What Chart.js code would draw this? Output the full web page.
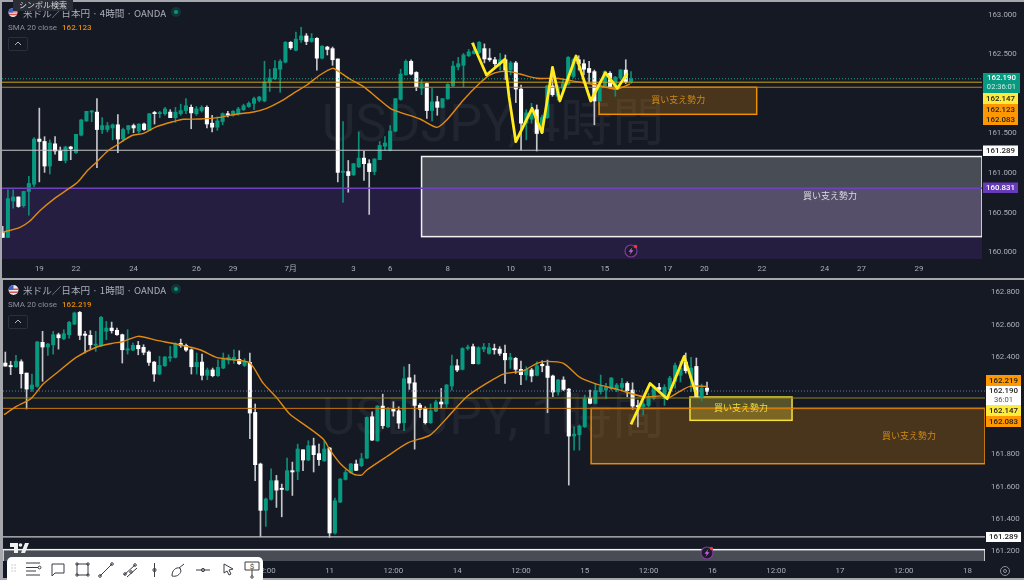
<!DOCTYPE html>
<html lang="ja">
<head>
<meta charset="UTF-8">
<title>USDJPY 4時間 / 1時間</title>
<script src="https://cdn.jsdelivr.net/npm/chart.js"></script>
<style>
  html, body { margin: 0; padding: 0; }
  body { width: 1024px; height: 580px; overflow: hidden; position: relative; background: #a5a7ac;
         font-family: Roboto, "Noto Sans CJK JP", sans-serif; }
  canvas { position: absolute; background: #151924; }
  #c4h { left: 2px; top: 2px; }
  #c1h { left: 3px; top: 280px; }
  .title { position: absolute; left: 23px; font-size: 9.6px; color: #a9adb8; white-space: nowrap;
           font-family: "Noto Sans CJK JP", sans-serif; line-height: 12px; }
  .sma { position: absolute; left: 8px; font-size: 8px; color: #8b8f9b; line-height: 10px; white-space: nowrap; }
  .sma b { font-weight: 500; color: #e68a0c; margin-left: 5px; }
  .fold { position: absolute; left: 8px; width: 18px; height: 12px; border: 1px solid #2b2f3a; border-radius: 2px; }
  .fold svg { display: block; margin: 3px auto 0; }
  .dot { position: absolute; left: 171px; width: 10px; height: 10px; border-radius: 5px; background: rgba(8,153,129,.22); }
  .dot i { position: absolute; left: 3px; top: 3px; width: 4px; height: 4px; border-radius: 2px; background: #089981; }
  .flag { position: absolute; left: 8px; }
  #tip { position: absolute; left: 13px; top: 0; width: 60px; height: 11px; background: #2a2d36; color: #d6d8de;
         font: 8px/10px "Noto Sans CJK JP", sans-serif; text-align: center; }
  #tools { position: absolute; left: 7px; top: 557px; width: 256px; height: 23px; background: #fff; border-radius: 5px 5px 0 0; }
  #logo { position: absolute; left: 10px; top: 543px; }
  #gear { position: absolute; left: 999px; top: 565px; }
</style>
</head>
<body>
<canvas id="c4h" width="1022" height="276"></canvas>
<canvas id="c1h" width="1021" height="298"></canvas>

<svg class="flag" style="top:7px" width="10" height="11" viewBox="0 0 10 10"><circle cx="5" cy="5" r="4.5" fill="#e9e9ee"/><path d="M1 7h8M.6 4.4h8.8" stroke="#d9534f" stroke-width="1.4"/><path d="M5 .5A4.5 4.5 0 0 0 .5 5H5z" fill="#3c62c4"/></svg>
<div class="title" style="top:7px">米ドル／日本円 · 4時間 · OANDA</div>
<div class="dot" style="top:7px"><i></i></div>
<div class="sma" style="top:23px">SMA 20 close<b>162.123</b></div>
<div class="fold" style="top:37px"><svg width="8" height="5"><path d="M1 4l3-3 3 3" fill="none" stroke="#b2b5be"/></svg></div>
<div id="tip">シンボル検索</div>

<svg class="flag" style="top:284px" width="11" height="12" viewBox="0 0 10 10"><circle cx="5" cy="5" r="4.5" fill="#e9e9ee"/><path d="M1 7h8M.6 4.4h8.8" stroke="#d9534f" stroke-width="1.4"/><path d="M5 .5A4.5 4.5 0 0 0 .5 5H5z" fill="#3c62c4"/></svg>
<div class="title" style="top:284px">米ドル／日本円 · 1時間 · OANDA</div>
<div class="dot" style="top:284px"><i></i></div>
<div class="sma" style="top:300px">SMA 20 close<b>162.219</b></div>
<div class="fold" style="top:315px"><svg width="8" height="5"><path d="M1 4l3-3 3 3" fill="none" stroke="#b2b5be"/></svg></div>

<svg id="logo" width="19" height="11" viewBox="0 0 19 11"><path d="M0 0h8v10H4V4H0zM15 0h4l-4 10h-4z" fill="#f0f0f0"/><circle cx="10.5" cy="2" r="1.8" fill="#f0f0f0"/></svg>

<div id="tools">
<svg width="256" height="23" viewBox="0 0 256 23" fill="none" stroke="#3a3d45" stroke-width="1">
  <g fill="#bbb" stroke="none"><circle cx="5" cy="8" r=".7"/><circle cx="8" cy="8" r=".7"/><circle cx="5" cy="11" r=".7"/><circle cx="8" cy="11" r=".7"/><circle cx="5" cy="14" r=".7"/><circle cx="8" cy="14" r=".7"/></g>
  <path d="M19 6h14M19 10.500h12M19 14h10M19 18h14"/><circle cx="32.500" cy="10.500" r="1.400"/>
  <path d="M45 7h12v9h-9l-3 3z"/>
  <path d="M70 7h11v11H70z"/><circle cx="70" cy="7" r="1.200"/><circle cx="81" cy="7" r="1.200"/><circle cx="70" cy="18" r="1.200"/><circle cx="81" cy="18" r="1.200"/>
  <path d="M93 19L105 7"/><circle cx="93" cy="19" r="1.300"/><circle cx="105" cy="7" r="1.300"/>
  <path d="M117 18l11-10M120 20l10-9"/><circle cx="118" cy="17" r="1.300"/><circle cx="128" cy="8" r="1.300"/><circle cx="124" cy="15" r="1.300"/>
  <path d="M147.500 6v14"/><circle cx="147.500" cy="13" r="1.600"/>
  <path d="M165 19c0-6 4-9 8-8l1 3c-1 4-5 6-9 5zM172 11l5-4"/>
  <path d="M189 13h14"/><circle cx="196" cy="13" r="1.600"/>
  <path d="M217 7l9 5-4 1 2 4-2 1-2-4-3 2z"/>
  <path d="M238 5h14v8h-14zM245 13v6"/><circle cx="245" cy="20" r="1.200"/><text x="245" y="12" font-size="8" text-anchor="middle" fill="#3a3d45" stroke="none" font-family="Roboto">$</text>
</svg>
</div>
<svg id="gear" width="12" height="12"><circle cx="6" cy="6" r="4.500" fill="none" stroke="#8b8f9b"/><circle cx="6" cy="6" r="1.500" fill="none" stroke="#8b8f9b"/></svg>

<script>
// ---- 4時間足 ----
const open4h = [
  160.26,160.19,160.65,160.70,160.59,160.77,160.86,161.43,161.40,161.09,
  161.37,161.28,161.16,161.33,161.26,161.48,161.66,161.77,161.77,161.55,
  161.55,161.57,161.61,161.43,161.55,161.60,161.53,161.62,161.54,161.76,
  161.75,161.75,161.77,161.70,161.75,161.79,161.83,161.75,161.79,161.83,
  161.63,161.58,161.65,161.75,161.73,161.75,161.80,161.84,161.88,161.92,
  161.91,162.15,162.19,162.31,162.40,162.65,162.55,162.68,162.73,162.66,
  162.70,162.45,162.59,162.57,162.44,161.01,161.02,160.98,161.08,161.19,
  161.12,161.02,161.17,161.34,161.29,161.53,161.93,162.24,162.41,162.27,
  162.07,162.13,161.79,161.90,161.83,161.94,162.10,162.34,162.36,162.48,
  162.51,162.52,162.57,162.45,162.43,162.38,162.43,162.30,162.39,162.06,
  161.63,161.68,161.80,161.51,161.70,162.10,161.97,162.07,162.12,162.22,
  162.43,162.38,162.32,162.28,161.91,162.10,162.26,162.09,162.20,162.30,
  162.15];
const high4h = [
  160.33,160.79,160.79,160.70,160.77,160.96,161.45,161.82,161.46,161.42,
  161.46,161.33,161.34,161.34,161.49,161.68,161.78,161.79,161.94,161.70,
  161.64,161.62,161.74,161.57,161.60,161.62,161.62,161.63,161.75,161.78,
  161.78,161.83,161.80,161.83,161.87,161.94,161.86,161.84,161.85,161.85,
  161.73,161.71,161.76,161.78,161.79,161.83,161.87,161.90,161.96,161.97,
  162.41,162.31,162.42,162.43,162.66,162.66,162.78,162.84,162.76,162.76,
  162.71,162.61,162.60,162.59,162.44,161.65,161.16,161.12,161.52,161.28,
  161.17,161.18,161.40,161.46,161.60,161.94,162.31,162.43,162.43,162.28,
  162.18,162.14,162.07,161.97,161.94,162.13,162.41,162.46,162.51,162.56,
  162.64,162.66,162.63,162.57,162.46,162.51,162.49,162.41,162.41,162.11,
  161.80,161.88,161.86,161.73,162.11,162.34,162.11,162.18,162.47,162.45,
  162.48,162.43,162.41,162.30,162.13,162.29,162.28,162.22,162.31,162.43,
  162.28];
const low4h = [
  160.19,160.19,160.56,160.57,160.57,160.47,160.83,160.89,161.01,160.99,
  161.24,161.16,161.13,161.17,161.25,161.47,161.65,161.65,161.07,161.50,
  161.52,161.42,161.26,161.40,161.50,161.51,161.51,161.54,161.54,161.62,
  161.70,161.73,161.70,161.64,161.73,161.75,161.56,161.73,161.77,161.57,
  161.52,161.54,161.61,161.71,161.72,161.73,161.79,161.83,161.80,161.90,
  161.90,162.03,162.18,162.02,162.39,162.56,162.54,162.65,162.62,162.65,
  162.30,162.44,162.49,162.36,160.89,160.63,160.76,160.97,161.07,160.91,
  160.48,160.98,161.17,161.29,161.28,161.52,161.92,162.24,162.24,162.04,
  161.99,161.69,161.66,161.73,161.82,161.93,162.09,162.30,162.09,162.47,
  162.50,162.51,162.39,162.41,162.32,162.30,162.18,162.24,161.89,161.29,
  161.42,161.63,161.28,161.50,161.69,161.97,161.92,162.03,162.11,162.20,
  162.30,162.24,162.13,161.61,161.90,162.09,162.07,161.97,162.18,162.13,
  162.13];
const close4h = [
  160.19,160.68,160.70,160.58,160.77,160.87,161.43,161.40,161.09,161.38,
  161.28,161.16,161.33,161.31,161.49,161.67,161.78,161.78,161.55,161.60,
  161.60,161.61,161.43,161.55,161.60,161.57,161.62,161.55,161.75,161.75,
  161.75,161.81,161.70,161.77,161.79,161.85,161.76,161.81,161.83,161.62,
  161.58,161.66,161.75,161.73,161.78,161.81,161.85,161.88,161.94,161.96,
  162.15,162.20,162.32,162.41,162.65,162.58,162.69,162.73,162.66,162.70,
  162.45,162.60,162.56,162.43,161.01,161.02,160.97,161.12,161.19,161.12,
  161.02,161.18,161.35,161.38,161.53,161.94,162.25,162.41,162.25,162.09,
  162.13,161.79,161.90,161.83,161.94,162.12,162.35,162.38,162.49,162.53,
  162.54,162.65,162.44,162.43,162.38,162.43,162.30,162.39,162.06,161.63,
  161.76,161.76,161.50,161.70,162.10,161.99,162.07,162.13,162.46,162.43,
  162.38,162.31,162.27,161.91,162.11,162.28,162.09,162.21,162.30,162.15,
  162.19];
const smaAt4h = [0,3.3,5.2,7.1,9.7,12.9,14.4,16,18,19.9,21.8,23.4,25,26.9,29.4,32.6,34.5,37.7,41.5,44,47.9,50.4,53,55.5,58.1,60.6,63,64,66.3,68.9,71.4,74,75.9,79.7,82.9,84.8,88,91.1,93.1,95,96.9,98.8,102,105.8,109.6,113.4,117.2,119.8];
const sma4h = [160.255,160.317,160.397,160.527,160.67,160.817,160.893,161.019,161.145,161.271,161.355,161.427,161.481,161.502,161.586,161.65,161.679,161.683,161.704,161.738,161.771,161.817,161.901,162.007,162.112,162.238,162.322,162.29,162.187,162.091,161.956,161.818,161.767,161.683,161.578,161.67,161.923,162.133,162.238,162.28,162.28,162.25,162.196,162.196,162.154,162.112,162.061,162.124];
const penAt4h = [89.7,92.4,95.9,96.7,98,101.1,103,105,106.4,109.5,112.3,115.1,117.4,119.3];
const pen4h = [162.645,162.238,162.435,161.965,161.397,161.818,161.511,162.334,161.91,162.477,161.91,162.267,162.07,162.259];
const tickAt4h = [7,14,25,37,44,55,67,74,85,97,104,115,127,134,145,157,164,175];
const tickText4h = ['19','22','24','26','29','7月','3','6','8','10','13','15','17','20','22','24','27','29'];
const priceTicks4h = [163,162.5,161.5,161,160.5,160];

// ---- 1時間足 ----
const open1h = [
  162.363,162.348,162.340,162.371,162.301,162.202,162.219,162.491,162.462,162.476,
  162.538,162.513,162.538,162.604,162.676,162.542,162.534,162.472,162.472,162.559,
  162.579,162.565,162.538,162.443,162.443,162.472,162.460,162.431,162.369,162.295,
  162.346,162.394,162.398,162.484,162.472,162.445,162.340,162.369,162.287,162.320,
  162.285,162.332,162.381,162.383,162.386,162.348,162.367,162.058,161.739,161.453,
  161.521,161.636,161.589,161.578,161.698,161.694,161.827,161.764,161.852,161.803,
  161.759,161.838,161.313,161.504,161.644,161.685,161.739,161.729,161.776,162.031,
  161.883,162.097,161.969,162.077,162.068,161.994,162.272,162.241,162.103,162.083,
  161.994,162.066,162.122,162.110,162.221,162.346,162.324,162.453,162.464,162.359,
  162.449,162.423,162.451,162.449,162.423,162.383,162.392,162.324,162.289,162.320,
  162.287,162.355,162.344,162.283,162.184,162.258,162.202,161.912,161.920,161.969,
  162.147,162.114,162.186,162.196,162.206,162.196,162.212,162.237,162.196,162.097,
  162.093,162.101,162.145,162.212,162.143,162.198,162.250,162.287,162.369,162.270,
  162.342,162.151,162.208];
const high1h = [
  162.431,162.373,162.410,162.383,162.301,162.295,162.497,162.559,162.484,162.559,
  162.548,162.569,162.620,162.678,162.682,162.559,162.563,162.559,162.651,162.620,
  162.616,162.579,162.542,162.569,162.486,162.497,162.476,162.439,162.373,162.404,
  162.404,162.466,162.488,162.511,162.480,162.451,162.425,162.418,162.332,162.332,
  162.383,162.425,162.414,162.445,162.439,162.390,162.425,162.110,161.745,161.529,
  161.710,161.669,161.615,161.776,161.751,161.862,161.827,161.883,161.899,161.862,
  161.879,161.842,161.529,161.650,161.702,161.743,161.764,161.805,162.031,162.062,
  162.101,162.171,162.089,162.124,162.093,162.340,162.355,162.289,162.114,162.093,
  162.110,162.134,162.206,162.231,162.412,162.385,162.458,162.474,162.480,162.464,
  162.484,162.484,162.480,162.464,162.474,162.423,162.398,162.375,162.340,162.330,
  162.371,162.377,162.381,162.289,162.262,162.278,162.206,161.969,161.980,162.165,
  162.196,162.237,162.289,162.237,162.274,162.237,162.268,162.247,162.241,162.134,
  162.124,162.175,162.221,162.237,162.229,162.281,162.363,162.373,162.425,162.398,
  162.394,162.233,162.246];
const low1h = [
  162.344,162.291,162.336,162.208,162.079,162.188,162.213,162.250,162.410,162.418,
  162.449,162.507,162.517,162.600,162.507,162.425,162.449,162.435,162.466,162.507,
  162.548,162.534,162.363,162.418,162.439,162.414,162.414,162.348,162.250,162.291,
  162.342,162.373,162.394,162.460,162.435,162.295,162.295,162.258,162.260,162.278,
  162.281,162.328,162.357,162.361,162.353,162.342,161.895,161.636,161.292,161.354,
  161.516,161.471,161.413,161.574,161.545,161.642,161.698,161.759,161.690,161.731,
  161.755,161.286,161.306,161.500,161.640,161.681,161.698,161.722,161.772,161.883,
  161.879,161.959,161.965,162.035,161.959,161.945,162.200,161.831,162.027,161.986,
  161.990,162.062,162.083,162.089,162.196,162.309,162.320,162.443,162.357,162.355,
  162.433,162.418,162.418,162.410,162.237,162.330,162.299,162.229,162.258,162.247,
  162.283,162.309,162.056,162.155,162.165,162.192,161.609,161.825,161.825,161.965,
  162.110,162.110,162.171,162.145,162.196,162.186,162.196,162.155,162.077,161.969,
  162.042,162.093,162.138,162.186,162.101,162.188,162.208,162.246,162.301,162.188,
  162.151,162.130,162.167];
const close1h = [
  162.344,162.340,162.373,162.297,162.202,162.227,162.493,162.462,162.480,162.538,
  162.519,162.544,162.614,162.672,162.534,162.534,162.476,162.480,162.645,162.579,
  162.563,162.538,162.445,162.451,162.472,162.451,162.429,162.367,162.295,162.348,
  162.400,162.400,162.484,162.470,162.443,162.340,162.367,162.287,162.320,162.285,
  162.336,162.394,162.398,162.398,162.359,162.373,162.054,161.735,161.453,161.523,
  161.636,161.578,161.582,161.698,161.690,161.832,161.764,161.852,161.797,161.766,
  161.832,161.313,161.512,161.646,161.687,161.739,161.700,161.772,162.027,161.887,
  162.097,161.976,162.081,162.066,161.992,162.266,162.239,162.101,162.077,161.994,
  162.068,162.122,162.110,162.227,162.346,162.320,162.453,162.462,162.359,162.458,
  162.462,162.458,162.445,162.423,162.383,162.398,162.324,162.291,162.324,162.283,
  162.346,162.346,162.274,162.184,162.258,162.200,161.912,161.924,161.974,162.142,
  162.114,162.192,162.217,162.212,162.270,162.227,162.237,162.192,162.097,162.093,
  162.110,162.151,162.212,162.200,162.213,162.270,162.348,162.332,162.316,162.332,
  162.157,162.208,162.188];
const smaAt1h = [-0.25,2.1,4.8,7.1,10,13.4,17.2,20.3,21.9,25,28.5,32.2,36.6,39.7,42.9,46,48.5,51,53.5,56.7,59.8,61.1,63,65.5,67,68,71.7,75.8,79.9,83,86.8,90.5,93.7,97.4,100,101.8,105,108.1,111.2,115,120,123.8,124.7,126.9,128.8,131.9];
const sma1h = [162.044,162.095,162.143,162.233,162.311,162.4,162.462,162.486,162.493,162.528,162.503,162.48,162.445,162.398,162.383,162.363,162.239,162.151,162.048,161.972,161.893,161.825,161.743,161.677,161.671,161.702,161.784,161.871,161.918,162.021,162.155,162.237,162.295,162.315,162.361,162.373,162.361,162.274,162.233,162.202,162.155,162.16,162.147,162.188,162.219,162.219];
const penAt1h = [117.7,121.3,124.5,127.7,130.1];
const pen1h = [161.984,162.237,162.142,162.404,162.157];
const tickAt1h = [49,61,73,85,97,109,121,133,145,157,169,181];
const tickText1h = ['12:00','11','12:00','14','12:00','15','12:00','16','12:00','17','12:00','18'];
const priceTicks1h = [162.8,162.6,162.4,161.8,161.6,161.4,161.2];

const lastPrice = 162.190;
const yellowLevel = 162.147;
const orangeLevel = 162.083;
const whiteLevel = 161.289;
const purpleLevel = 160.81;
const zoneText = '買い支え勢力';

const GREEN = '#089981';
const ZONE_FONT = '9px "Noto Sans CJK JP", sans-serif';
const AXIS_FONT = {family: 'Roboto, "Noto Sans CJK JP", sans-serif', size: 7.9};

function makeChart(id, p) {
  const n = p.o.length;
  const idx = p.o.map((_, i) => i);
  const isUp = i => p.c[i] >= p.o[i];
  const level = (v, color, width, dash) => ({
    type: 'line', order: 3, data: [{x: p.xMin, y: v}, {x: p.xMax, y: v}],
    borderColor: color, borderWidth: width, borderDash: dash || [], pointRadius: 0
  });

  const decor = {
    id: 'decor',
    beforeDatasetsDraw(chart) {
      const {ctx, chartArea: a, scales: {x, y}} = chart;
      ctx.save();
      ctx.beginPath(); ctx.rect(a.left, a.top, a.width, a.height); ctx.clip();
      if (p.band) {
        ctx.fillStyle = '#261e40';
        ctx.fillRect(a.left, y.getPixelForValue(p.band), a.width, a.bottom - y.getPixelForValue(p.band));
      }
      ctx.fillStyle = 'rgba(255,255,255,.05)';
      ctx.font = '52px Roboto, "Noto Sans CJK JP", sans-serif';
      ctx.textAlign = 'center'; ctx.textBaseline = 'middle';
      ctx.fillText(p.mark, p.markX, p.markY);
      p.boxes.forEach(b => {
        const l = x.getPixelForValue(b.from), r = x.getPixelForValue(b.to);
        const t = y.getPixelForValue(b.high), u = y.getPixelForValue(b.low);
        ctx.fillStyle = b.fill; ctx.fillRect(l, t, r - l, u - t);
        ctx.strokeStyle = b.stroke; ctx.lineWidth = 1.5; ctx.strokeRect(l, t, r - l, u - t);
      });
      ctx.restore();
    },
    afterDatasetsDraw(chart) {
      const {ctx, scales: {x, y}} = chart;
      ctx.save();
      ctx.font = ZONE_FONT; ctx.textAlign = 'center'; ctx.textBaseline = 'middle';
      p.boxes.forEach(b => {
        if (!b.color) return;
        ctx.fillStyle = b.color;
        ctx.fillText(zoneText, x.getPixelForValue(b.textX), y.getPixelForValue(b.textY));
      });
      // 経済指標アイコン
      const bx = x.getPixelForValue(n - 1), by = chart.chartArea.bottom - 8;
      ctx.beginPath(); ctx.arc(bx, by, 6, 0, Math.PI * 2);
      ctx.fillStyle = '#1d1a2c'; ctx.fill();
      ctx.strokeStyle = '#7d3c98'; ctx.lineWidth = 1.2; ctx.stroke();
      ctx.beginPath();
      ctx.moveTo(bx + 1.5, by - 4); ctx.lineTo(bx - 2.5, by + .8); ctx.lineTo(bx - .2, by + .8);
      ctx.lineTo(bx - 1.5, by + 4); ctx.lineTo(bx + 2.5, by - .8); ctx.lineTo(bx + .2, by - .8); ctx.closePath();
      ctx.fillStyle = '#c565d8'; ctx.fill();
      ctx.beginPath(); ctx.arc(bx + 4.5, by - 4.5, 1.7, 0, Math.PI * 2);
      ctx.fillStyle = '#f23645'; ctx.fill();
      ctx.restore();
    },
    afterDraw(chart) {
      const {ctx, chartArea: a} = chart;
      ctx.save();
      ctx.textAlign = 'center'; ctx.textBaseline = 'middle';
      p.tags.forEach(tag => {
        ctx.fillStyle = tag.bg;
        ctx.fillRect(a.right + 1, tag.y0, tag.w, tag.y1 - tag.y0);
        ctx.fillStyle = tag.fg;
        ctx.font = '500 7.9px Roboto, sans-serif';
        const cx = a.right + 1 + tag.w / 2;
        if (tag.sub) {
          ctx.fillText(tag.text, cx, tag.y0 + 5.5);
          ctx.font = '7.6px Roboto, sans-serif';
          ctx.fillStyle = tag.subFg;
          ctx.fillText(tag.sub, cx, tag.y0 + 14.5);
        } else {
          ctx.fillText(tag.text, cx, (tag.y0 + tag.y1) / 2 + .5);
        }
      });
      ctx.restore();
    }
  };

  return new Chart(document.getElementById(id), {
    type: 'bar',
    data: {
      datasets: [
        {
          order: 5, grouped: false, barThickness: 1,
          data: idx.map(i => ({x: i, y: [p.l[i], p.h[i]]})),
          backgroundColor: idx.map(i => isUp(i) ? '#0b8d78' : '#c4c6ca')
        },
        {
          order: 4, grouped: false, barThickness: 3.4, minBarLength: 1.2,
          data: idx.map(i => ({x: i, y: [p.o[i], p.c[i]]})),
          backgroundColor: idx.map(i => isUp(i) ? GREEN : '#ffffff')
        },
        level(lastPrice, p.dotColor, 1, [1, 2]),
        level(yellowLevel, p.yellowColor, 1),
        level(orangeLevel, '#c9760c', 1),
        level(whiteLevel, '#c6c7cb', 1.2),
        ...(p.band ? [level(purpleLevel, '#6f42c1', 1.6)] : []),
        {
          type: 'line', order: 2, data: p.smaAt.map((v, i) => ({x: v, y: p.sma[i]})),
          borderColor: '#e08a12', borderWidth: 1.4, pointRadius: 0, tension: .25
        },
        {
          type: 'line', order: 1, data: p.penAt.map((v, i) => ({x: v, y: p.pen[i]})),
          borderColor: '#ffeb1e', borderWidth: 2.8, pointRadius: 0, borderJoinStyle: 'round'
        }
      ]
    },
    options: {
      responsive: false,
      animation: false,
      events: [],
      layout: {padding: 0, autoPadding: false},
      plugins: {legend: {display: false}, tooltip: {enabled: false}, title: {display: false}},
      scales: {
        x: {
          type: 'linear', offset: false, min: p.xMin, max: p.xMax,
          grid: {display: false, drawTicks: false}, border: {display: false},
          afterBuildTicks(s) { s.ticks = p.tickAt.map(v => ({value: v})); },
          afterFit(s) { s.height = p.axisH; s.paddingLeft = 0; s.paddingRight = 0; },
          ticks: {
            autoSkip: false, maxRotation: 0, color: '#a9adb8', padding: p.tickPad,
            font: AXIS_FONT,
            callback: v => p.tickText[p.tickAt.indexOf(v)]
          }
        },
        y: {
          position: 'right', min: p.yMin, max: p.yMax,
          grid: {display: false, drawTicks: false}, border: {display: false},
          afterBuildTicks(s) { s.ticks = p.priceTicks.map(v => ({value: v})); },
          afterFit(s) { s.width = p.axisW; s.paddingTop = 0; s.paddingBottom = 0; },
          ticks: {
            autoSkip: false, color: '#a9adb8', padding: 6,
            font: AXIS_FONT,
            callback: v => v.toFixed(3)
          }
        }
      }
    },
    plugins: [decor]
  });
}

makeChart('c4h', {
  o: open4h, h: high4h, l: low4h, c: close4h,
  smaAt: smaAt4h, sma: sma4h, penAt: penAt4h, pen: pen4h,
  tickAt: tickAt4h, tickText: tickText4h, priceTicks: priceTicks4h,
  xMin: -0.13, xMax: 187.03, yMin: 159.918, yMax: 163.158,
  axisH: 19, axisW: 42, tickPad: 5,
  dotColor: '#19a08c', yellowColor: '#c9a60f',
  band: purpleLevel,
  mark: 'USDJPY, 4時間', markX: 491, markY: 126,
  boxes: [
    {from: 80, to: 187.03, high: 161.21, low: 160.20, fill: 'rgba(255,255,255,.22)', stroke: '#f2f2f2', color: '#dcdce2', textX: 158, textY: 160.712},
    {from: 113.9, to: 144, high: 162.083, low: 161.742, fill: 'rgba(255,152,0,.22)', stroke: '#f09000', color: '#d08a15', textX: 129, textY: 161.922}
  ],
  tags: [
    {y0: 71, y1: 91, w: 37, bg: GREEN, fg: '#fff', text: '162.190', sub: '02:36:01', subFg: '#c9efe6'},
    {y0: 91, y1: 102, w: 35, bg: '#ffeb3b', fg: '#222', text: '162.147'},
    {y0: 102, y1: 113, w: 35, bg: '#ff9800', fg: '#222', text: '162.123'},
    {y0: 113, y1: 123, w: 35, bg: '#ff9800', fg: '#222', text: '162.083'},
    {y0: 143.500, y1: 154, w: 35, bg: '#ffffff', fg: '#222', text: '161.289'},
    {y0: 180.500, y1: 191, w: 35, bg: '#673ab7', fg: '#fff', text: '160.831'}
  ]
});

makeChart('c1h', {
  o: open1h, h: high1h, l: low1h, c: close1h,
  smaAt: smaAt1h, sma: sma1h, penAt: penAt1h, pen: pen1h,
  tickAt: tickAt1h, tickText: tickText1h, priceTicks: priceTicks1h,
  xMin: -0.44, xMax: 184.3, yMin: 161.14, yMax: 162.876,
  axisH: 17, axisW: 39, tickPad: 5,
  dotColor: '#5f7c9e', yellowColor: '#8f8420',
  band: null,
  mark: 'USDJPY, 1時間', markX: 490, markY: 141,
  boxes: [
    {from: -0.44, to: 184.3, high: 161.21, low: 161.0, fill: 'rgba(255,255,255,.22)', stroke: '#f2f2f2'},
    {from: 110.2, to: 184.3, high: 162.083, low: 161.741, fill: 'rgba(255,152,0,.22)', stroke: '#e8890a', color: '#d08a15', textX: 170, textY: 161.914},
    {from: 128.8, to: 148, high: 162.153, low: 162.009, fill: 'rgba(255,235,59,.28)', stroke: '#f5e03a', color: '#efdc3c', textX: 138.4, textY: 162.085}
  ],
  tags: [
    {y0: 95, y1: 106, w: 35, bg: '#ff9800', fg: '#222', text: '162.219'},
    {y0: 106, y1: 125, w: 35, bg: '#ffffff', fg: '#222', text: '162.190', sub: '36:01', subFg: '#555'},
    {y0: 125, y1: 136, w: 35, bg: '#ffeb3b', fg: '#222', text: '162.147'},
    {y0: 136, y1: 147, w: 35, bg: '#ff9800', fg: '#222', text: '162.083'},
    {y0: 252, y1: 262, w: 35, bg: '#ffffff', fg: '#222', text: '161.289'}
  ]
});
</script>
</body>
</html>
